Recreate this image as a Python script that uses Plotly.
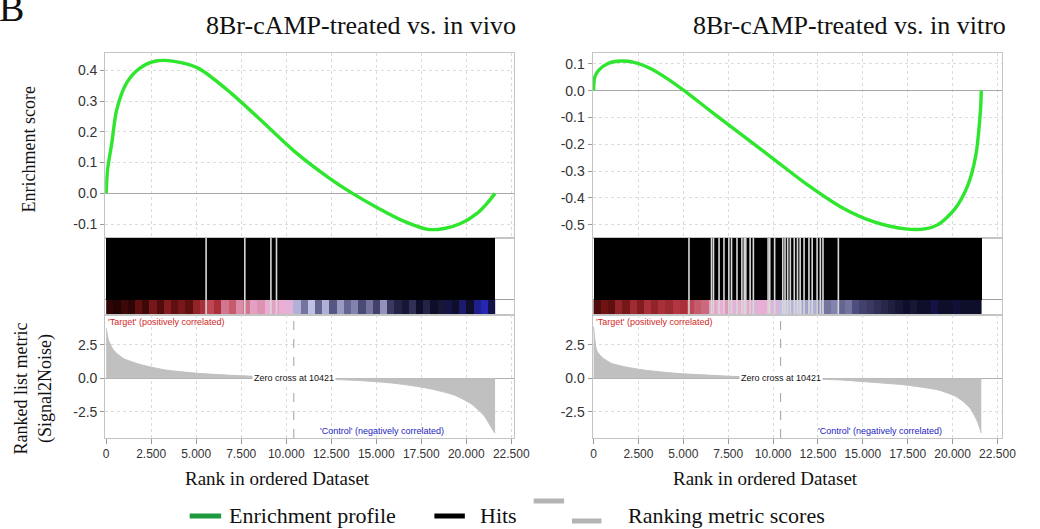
import plotly.graph_objects as go

W, H = 1040, 529
N_GENES = 21600
ZERO_CROSS = 10421

titles = ["8Br-cAMP-treated vs. in vivo", "8Br-cAMP-treated vs. in vitro"]

# Enrichment score curves
es_vivo_rank = [0, 73, 311, 584, 1130, 1856, 2767, 3858, 5131, 6950, 8770, 10590,
                12407, 13680, 15137, 16594, 17867, 18777, 19687, 20597, 21143, 21600]
es_vivo = [0.0, 0.075, 0.163, 0.271, 0.358, 0.406, 0.430, 0.428, 0.406, 0.325, 0.228, 0.130,
           0.049, 0.0, -0.049, -0.092, -0.117, -0.114, -0.098, -0.065, -0.033, 0.0]

es_vitro_rank = [0, 71, 290, 803, 1529, 2256, 3168, 4079, 4990, 6444, 8263, 10087, 11906,
                 13726, 15548, 17365, 18458, 19185, 20098, 20826, 21282, 21555, 21600]
es_vitro = [0.0, 0.052, 0.077, 0.102, 0.111, 0.106, 0.083, 0.046, 0.003, -0.072, -0.165, -0.258,
            -0.351, -0.432, -0.488, -0.516, -0.516, -0.500, -0.444, -0.357, -0.246, -0.072, 0.0]

# Hit positions (ranks)
hits_vivo = [5550, 7700, 9150, 9460]
hits_vitro = [5314, 6570, 6680, 6990, 7264, 7537, 7685, 7990, 8263, 8394, 8482, 8722, 8902,
              9722, 9814, 10087, 10541, 10666, 10814, 10961, 11180, 11360, 11508, 11726,
              11999, 12179, 12452, 12633, 12780, 13637]

# Ranked list metric (Signal2Noise)
metric_vivo_rank = [0, 126, 400, 945, 1856, 3313, 5131, 6950, 8770, 10042, 10421, 12407,
                    14227, 16047, 17867, 19323, 20233, 20961, 21416, 21600]
metric_vivo = [3.75, 2.88, 2.13, 1.50, 1.05, 0.62, 0.37, 0.22, 0.12, 0.02, 0.0, -0.08,
               -0.18, -0.38, -0.75, -1.25, -1.88, -2.76, -3.75, -4.13]

metric_vitro_rank = [0, 164, 450, 983, 1800, 2802, 4626, 7357, 9500, 10421, 12000, 13724,
                     15547, 17367, 19186, 20098, 20600, 21010, 21400, 21600]
metric_vitro = [3.87, 2.13, 1.60, 1.13, 0.85, 0.62, 0.37, 0.17, 0.05, 0.0, -0.06, -0.12,
                -0.30, -0.50, -0.87, -1.30, -1.75, -2.30, -3.30, -4.10]

# Colour band along ranked list (54 bins of 400 ranks), position on band colour scale
band_bin = 400
band_vivo = [0.05, 0.03, 0.08, 0.05, 0.15, 0.08, 0.20, 0.12, 0.22, 0.15, 0.20, 0.15, 0.25, 0.30,
             0.35, 0.30, 0.42, 0.38, 0.45, 0.42, 0.48, 0.46, 0.50, 0.48, 0.50, 0.52, 0.62, 0.70,
             0.60, 0.72, 0.62, 0.74, 0.65, 0.72, 0.68, 0.76, 0.70, 0.78, 0.66, 0.80, 0.85, 0.88,
             0.82, 0.90, 0.85, 0.90, 0.88, 0.92, 0.90, 0.95, 0.90, 0.97, 1.00, 0.92]
band_vitro = [0.12, 0.18, 0.15, 0.25, 0.20, 0.28, 0.22, 0.30, 0.25, 0.30, 0.27, 0.32, 0.30,
              0.35, 0.38, 0.40, 0.48, 0.50, 0.47, 0.52, 0.50, 0.49, 0.53, 0.50, 0.52, 0.55,
              0.60, 0.62, 0.60, 0.64, 0.62, 0.66, 0.70, 0.68, 0.72, 0.70, 0.75, 0.78, 0.80,
              0.82, 0.84, 0.86, 0.88, 0.90, 0.88, 0.90, 0.90, 0.92, 0.90, 0.90, 0.91, 0.90,
              0.90, 0.90]

x_tickvals = [0, 2500, 5000, 7500, 10000, 12500, 15000, 17500, 20000, 22500]
x_ticktext = ["0", "2.500", "5.000", "7.500", "10.000", "12.500", "15.000", "17.500", "20.000", "22.500"]
es_ticks_vivo = [0.4, 0.3, 0.2, 0.1, 0.0, -0.1]
es_ticks_vitro = [0.1, 0.0, -0.1, -0.2, -0.3, -0.4, -0.5]
metric_ticks = [2.5, 0.0, -2.5]

band_colorscale = [
    [0.0, "#140000"], [0.18, "#6e1212"], [0.33, "#b83844"], [0.5, "#eaaed4"],
    [0.6, "#c0c0e6"], [0.75, "#4e4e7c"], [0.9, "#0e0e2a"], [1.0, "#2626b4"],
]

SERIF = "Liberation Serif, Times New Roman, serif"
SANS = "Liberation Sans, Arial, sans-serif"
GREEN = "#2ee62e"
FRAME = "#c4c4c4"
GRID = "#dcdcdc"


def px(xp):
    return xp / W


def py(yp):
    return 1 - yp / H


fig = go.Figure()

panels = [
    dict(xd=(105, 521), xr=(-55, 22650), esr=(-0.145, 0.456), es_ticks=es_ticks_vivo,
         es_x=es_vivo_rank, es_y=es_vivo, hits=hits_vivo, band=band_vivo,
         m_x=metric_vivo_rank, m_y=metric_vivo, ax=(1, 2, 3), ctrl_x=18900),
    dict(xd=(601, 1018), xr=(-55, 22775), esr=(-0.55, 0.141), es_ticks=es_ticks_vitro,
         es_x=es_vitro_rank, es_y=es_vitro, hits=hits_vitro, band=band_vitro,
         m_x=metric_vitro_rank, m_y=metric_vitro, ax=(4, 5, 6), ctrl_x=19500),
]

ES_Y = (53, 238)
HIT_Y = (238, 315)
MET_Y = (315, 438)
MET_RANGE = (-4.48, 4.75)

layout_axes = {}


def axname(kind, i):
    return f"{kind}axis" if i == 1 else f"{kind}axis{i}"


def ref(kind, i):
    return kind if i == 1 else f"{kind}{i}"


for p in panels:
    a_es, a_hit, a_met = p["ax"]
    xdom = [px(p["xd"][0]), px(p["xd"][1])]
    common_x = dict(domain=xdom, range=list(p["xr"]), tickvals=x_tickvals, ticktext=x_ticktext,
                    showline=True, linecolor=FRAME, mirror=True, showgrid=True, gridcolor=GRID,
                    griddash="dot", zeroline=False)
    # ES panel
    layout_axes[axname("x", a_es)] = dict(common_x, showticklabels=False, anchor=ref("y", a_es))
    layout_axes[axname("y", a_es)] = dict(
        domain=[py(ES_Y[1]), py(ES_Y[0])], range=list(p["esr"]), tickvals=p["es_ticks"],
        ticktext=[f"{v:.1f}" for v in p["es_ticks"]], showline=True, linecolor=FRAME, mirror=True,
        showgrid=True, gridcolor=GRID, griddash="dot", zeroline=True, zerolinecolor="#a8a8a8",
        zerolinewidth=1.2, ticks="outside", ticklen=4, tickcolor="#999",
        tickfont=dict(family=SANS, size=14, color="#333"), anchor=ref("x", a_es))
    # Hits panel
    layout_axes[axname("x", a_hit)] = dict(common_x, showticklabels=False, showgrid=False,
                                           anchor=ref("y", a_hit))
    layout_axes[axname("y", a_hit)] = dict(
        domain=[py(HIT_Y[1]), py(HIT_Y[0])], range=[0, 1], tickvals=[0.2], showticklabels=False,
        showline=True, linecolor=FRAME, mirror=True, showgrid=True, gridcolor="#a0a0a0",
        zeroline=False, anchor=ref("x", a_hit))
    # Ranked metric panel
    layout_axes[axname("x", a_met)] = dict(
        common_x, showticklabels=True, ticks="outside", ticklen=5, tickcolor="#999",
        tickfont=dict(family=SANS, size=12, color="#333"), anchor=ref("y", a_met))
    layout_axes[axname("y", a_met)] = dict(
        domain=[py(MET_Y[1]), py(MET_Y[0])], range=list(MET_RANGE), tickvals=metric_ticks,
        ticktext=[f"{v:.1f}" for v in metric_ticks], showline=True, linecolor=FRAME, mirror=True,
        showgrid=True, gridcolor=GRID, griddash="dot", zeroline=True, zerolinecolor="#b0b0b0",
        zerolinewidth=1, ticks="outside", ticklen=4, tickcolor="#999",
        tickfont=dict(family=SANS, size=14, color="#333"), anchor=ref("x", a_met))

    # Traces
    fig.add_trace(go.Scatter(x=p["es_x"], y=p["es_y"], mode="lines",
                             line=dict(color=GREEN, width=3.4, shape="spline", smoothing=0.8),
                             xaxis=ref("x", a_es), yaxis=ref("y", a_es), hoverinfo="skip"))
    fig.add_trace(go.Bar(x=[N_GENES / 2], y=[0.8], base=[0.2], width=[N_GENES],
                         marker=dict(color="black", line=dict(width=0)),
                         xaxis=ref("x", a_hit), yaxis=ref("y", a_hit), hoverinfo="skip"))
    band = p["band"]
    edges = [i * band_bin for i in range(len(band) + 1)]
    fig.add_trace(go.Heatmap(x=edges, y=[0, 0.2], z=[band], colorscale=band_colorscale,
                             zmin=0, zmax=1, showscale=False,
                             xaxis=ref("x", a_hit), yaxis=ref("y", a_hit), hoverinfo="skip"))
    hx, hy = [], []
    for r in p["hits"]:
        hx += [r, r, None]
        hy += [0, 1, None]
    fig.add_trace(go.Scatter(x=hx, y=hy, mode="lines", line=dict(color="#d8d8d8", width=1.6),
                             xaxis=ref("x", a_hit), yaxis=ref("y", a_hit), hoverinfo="skip"))
    fig.add_trace(go.Scatter(x=p["m_x"], y=p["m_y"], mode="lines", fill="tozeroy",
                             fillcolor="#c0c0c0",
                             line=dict(color="#c0c0c0", width=1, shape="spline", smoothing=0.6),
                             xaxis=ref("x", a_met), yaxis=ref("y", a_met), hoverinfo="skip"))
    fig.add_trace(go.Scatter(x=[ZERO_CROSS, ZERO_CROSS], y=list(MET_RANGE), mode="lines",
                             line=dict(color="#a0a0a0", width=1, dash="dash"),
                             xaxis=ref("x", a_met), yaxis=ref("y", a_met), hoverinfo="skip"))

annotations = []
for i, p in enumerate(panels):
    a_met = p["ax"][2]
    annotations.append(dict(text="'Target' (positively correlated)", x=0, y=1,
                            xref=ref("x", a_met), yref=f"{ref('y', a_met)} domain",
                            xanchor="left", yanchor="top", showarrow=False,
                            font=dict(family=SANS, size=9, color="#d02828")))
    annotations.append(dict(text="Zero cross at " + str(ZERO_CROSS), x=ZERO_CROSS, y=0,
                            xref=ref("x", a_met), yref=ref("y", a_met), xanchor="center",
                            yanchor="middle", showarrow=False, bgcolor="white",
                            font=dict(family=SANS, size=9, color="#111")))
    annotations.append(dict(text="'Control' (negatively correlated)", x=p["ctrl_x"], y=-3.95,
                            xref=ref("x", a_met), yref=ref("y", a_met), xanchor="right",
                            yanchor="middle", showarrow=False,
                            font=dict(family=SANS, size=9, color="#2424c0")))

# Titles and axis labels
annotations += [
    dict(text=titles[0], x=px(365), y=py(25), xref="paper", yref="paper", showarrow=False,
         xanchor="center", yanchor="middle", font=dict(family=SERIF, size=26, color="#111")),
    dict(text=titles[1], x=px(862), y=py(25), xref="paper", yref="paper", showarrow=False,
         xanchor="center", yanchor="middle", font=dict(family=SERIF, size=26, color="#111")),
    dict(text="B", x=px(-5), y=py(8), xref="paper", yref="paper", showarrow=False,
         xanchor="left", yanchor="middle", font=dict(family=SERIF, size=38, color="#111")),
    dict(text="Enrichment score", x=px(27), y=py(150), xref="paper", yref="paper",
         showarrow=False, textangle=-90, xanchor="center", yanchor="middle",
         font=dict(family=SERIF, size=18, color="#111")),
    dict(text="Ranked list metric<br>(Signal2Noise)", x=px(32), y=py(388), xref="paper",
         yref="paper", showarrow=False, textangle=-90, xanchor="center", yanchor="middle",
         font=dict(family=SERIF, size=18, color="#111")),
    dict(text="Rank in ordered Dataset", x=px(280), y=py(478), xref="paper", yref="paper",
         showarrow=False, xanchor="center", yanchor="middle",
         font=dict(family=SERIF, size=19, color="#111")),
    dict(text="Rank in ordered Dataset", x=px(777), y=py(478), xref="paper", yref="paper",
         showarrow=False, xanchor="center", yanchor="middle",
         font=dict(family=SERIF, size=19, color="#111")),
    # legend texts
    dict(text="Enrichment profile", x=px(229), y=py(515), xref="paper", yref="paper",
         showarrow=False, xanchor="left", yanchor="middle",
         font=dict(family=SERIF, size=22, color="#111")),
    dict(text="Hits", x=px(484), y=py(515), xref="paper", yref="paper",
         showarrow=False, xanchor="left", yanchor="middle",
         font=dict(family=SERIF, size=22, color="#111")),
    dict(text="Ranking metric scores", x=px(635), y=py(515), xref="paper", yref="paper",
         showarrow=False, xanchor="left", yanchor="middle",
         font=dict(family=SERIF, size=22, color="#111")),
]

legend_bars = [
    (191, 223, 516, "#1e9a3e"),
    (440, 471, 516, "#000000"),
    (541, 572, 501, "#b4b4b4"),
    (580, 610, 521, "#b4b4b4"),
]
shapes = []
for x0, x1, yc, col in legend_bars:
    shapes.append(dict(type="rect", xref="paper", yref="paper", x0=px(x0), x1=px(x1),
                       y0=py(yc + 2.5), y1=py(yc - 2.5), fillcolor=col, line=dict(width=0)))

fig.update_layout(
    width=W, height=H, autosize=False,
    margin=dict(l=0, r=0, t=0, b=0),
    paper_bgcolor="white", plot_bgcolor="white",
    showlegend=False, bargap=0,
    annotations=annotations, shapes=shapes,
    **layout_axes,
)

post = (
    "var s=document.createElement('style');"
    "s.textContent='html,body{margin:0;padding:0;overflow:hidden;width:1040px;height:529px;}';"
    "document.head.appendChild(s);"
)
fig.write_html("out.html", config={"displayModeBar": False}, post_script=post)
